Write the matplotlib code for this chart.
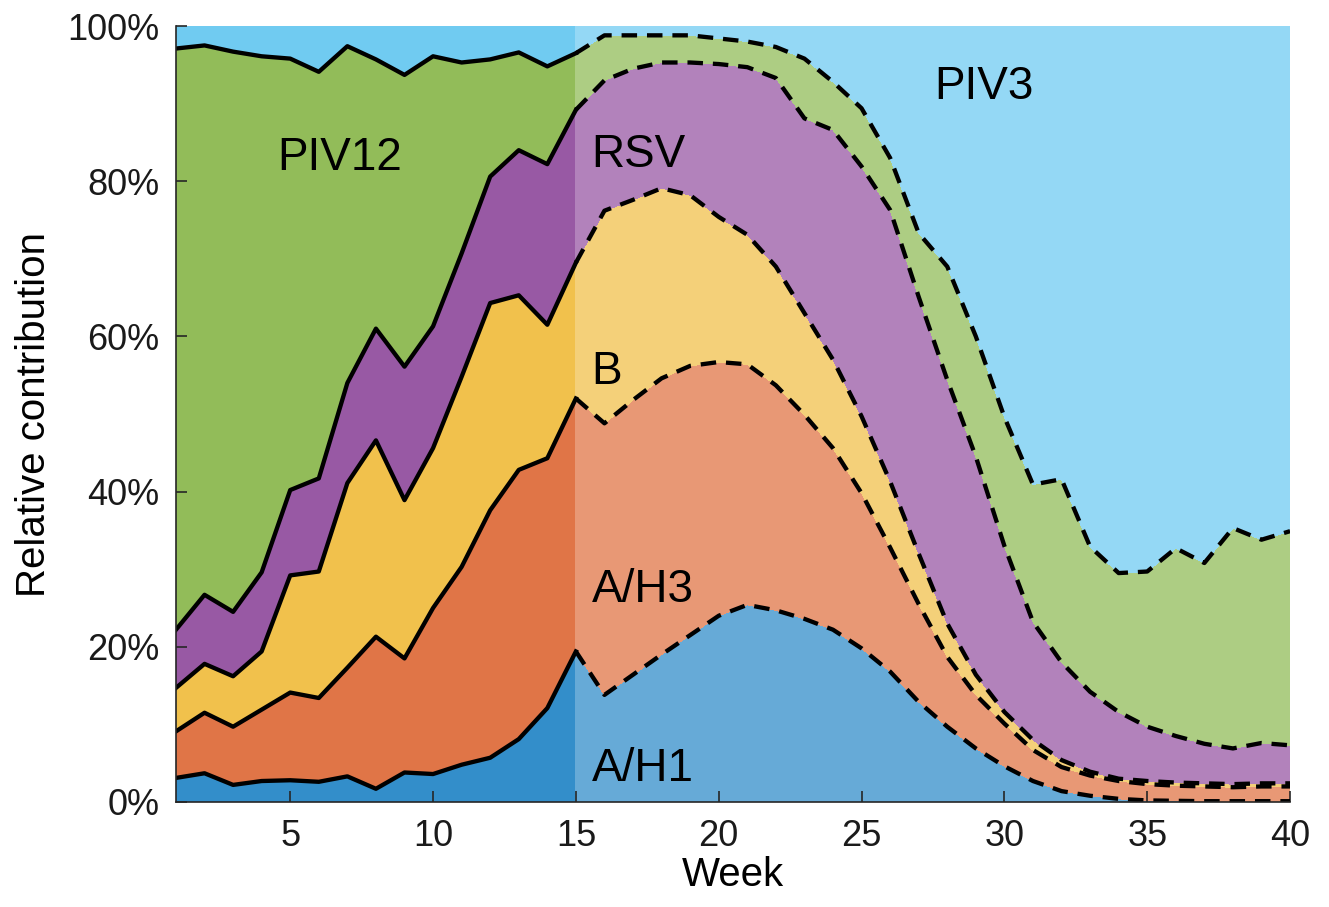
import numpy as np
import matplotlib
matplotlib.use("Agg")
import matplotlib.pyplot as plt

plt.rcParams['font.family'] = ['Liberation Sans', 'DejaVu Sans']

# Weekly share (%) of each virus, stacked from the bottom up
viruses = ['A/H1', 'A/H3', 'B', 'RSV', 'PIV12', 'PIV3']

# observed part, weeks 1-15
weeks_obs = list(range(1, 16))
ah1_obs = [3.1, 3.7, 2.2, 2.7, 2.8, 2.6, 3.3, 1.7, 3.8, 3.6, 4.8, 5.7, 8.1, 12.1, 19.4]
ah3_obs = [6.0, 7.8, 7.5, 9.2, 11.3, 10.8, 14.0, 19.6, 14.7, 21.4, 25.5, 31.9, 34.7, 32.2, 32.6]
b_obs = [5.6, 6.3, 6.5, 7.5, 15.1, 16.3, 23.8, 25.3, 20.4, 20.6, 24.5, 26.7, 22.5, 17.2, 17.5]
rsv_obs = [7.5, 8.9, 8.3, 10.2, 11.0, 12.0, 12.9, 14.4, 17.2, 15.7, 15.9, 16.3, 18.7, 20.7, 19.7]
piv12_obs = [74.9, 70.8, 72.2, 66.5, 55.6, 52.4, 43.4, 34.7, 37.6, 34.8, 24.6, 15.1, 12.6, 12.6, 7.3]
piv3_obs = [2.9, 2.5, 3.3, 3.9, 4.2, 5.9, 2.6, 4.3, 6.3, 3.9, 4.7, 4.3, 3.4, 5.2, 3.5]

# forecast part, weeks 15-40
weeks_fc = list(range(15, 41))
ah1_fc = [19.4, 13.8, 16.4, 19.0, 21.5, 24.0, 25.4, 24.7, 23.6, 22.2, 19.8, 16.8, 12.9,
          9.7, 6.9, 4.6, 2.7, 1.4, 0.8, 0.4, 0.2, 0.15, 0.1, 0.1, 0.1, 0.1]
ah3_fc = [32.6, 35.0, 35.4, 35.6, 34.7, 32.7, 31.0, 29.0, 26.3, 23.4, 20.0, 16.0, 12.6,
          9.0, 6.9, 5.5, 4.0, 3.1, 2.6, 2.3, 2.1, 1.95, 1.9, 1.8, 1.9, 1.9]
b_fc = [17.5, 27.4, 25.8, 24.5, 22.0, 18.7, 16.7, 15.3, 13.1, 11.4, 9.9, 8.5, 6.5,
        4.3, 2.6, 1.5, 1.3, 0.9, 0.5, 0.3, 0.4, 0.4, 0.4, 0.4, 0.4, 0.4]
rsv_fc = [19.7, 16.8, 16.9, 16.2, 17.1, 19.7, 21.6, 24.3, 25.1, 29.6, 32.2, 35.0, 33.1,
          31.4, 28.1, 21.4, 15.2, 12.6, 10.3, 8.6, 7.0, 6.0, 5.1, 4.6, 5.2, 4.9]
piv12_fc = [7.3, 5.8, 4.3, 3.5, 3.5, 3.3, 3.3, 4.0, 7.7, 6.2, 7.5, 6.7, 8.2,
            14.6, 15.5, 16.6, 17.7, 23.6, 18.7, 17.9, 20.0, 24.2, 23.3, 28.4, 26.2, 27.6]
piv3_fc = [3.5, 1.2, 1.2, 1.2, 1.2, 1.6, 2.0, 2.7, 4.2, 7.2, 10.6, 17.0, 26.7,
           31.0, 40.0, 50.4, 59.1, 58.4, 67.1, 70.5, 70.3, 67.3, 69.2, 64.7, 66.2, 65.1]

# MATLAB default colour order
base_colors = [(0, 0.447, 0.741), (0.85, 0.325, 0.098), (0.929, 0.694, 0.125),
               (0.494, 0.184, 0.556), (0.466, 0.674, 0.188), (0.301, 0.745, 0.933)]


def tint(c, a):
    # colour c drawn with opacity a on white
    return tuple(1 - a * (1 - v) for v in c)


obs_colors = [tint(c, 0.8) for c in base_colors]
fc_colors = [tint(c, 0.6) for c in base_colors]

fig = plt.figure(figsize=(13.29, 9.07), dpi=100)
ax = fig.add_axes([0.1324, 0.1158, 0.8383, 0.8555])

obs = [ah1_obs, ah3_obs, b_obs, rsv_obs, piv12_obs, piv3_obs]
fc = [ah1_fc, ah3_fc, b_fc, rsv_fc, piv12_fc, piv3_fc]

ax.stackplot(weeks_obs, *obs, colors=obs_colors, linewidth=0, antialiased=False)
ax.stackplot(weeks_fc, *fc, colors=fc_colors, linewidth=0, antialiased=False)

# boundaries between layers
cum_obs = np.cumsum(np.array(obs), axis=0)
cum_fc = np.cumsum(np.array(fc), axis=0)
for i in range(5):
    ax.plot(weeks_obs, cum_obs[i], color='black', lw=3.1, solid_joinstyle='round')
    ax.plot(weeks_fc, cum_fc[i], color='black', lw=3.1, dashes=(3.6, 2.3))

# layer names
label_pos = {'PIV12': (4.55, 83), 'RSV': (15.55, 83.4), 'B': (15.55, 55.4),
             'A/H3': (15.55, 27.3), 'A/H1': (15.55, 4.2), 'PIV3': (27.55, 92.1)}
for name, (x, y) in label_pos.items():
    ax.text(x, y, name, fontsize=33, ha='left', va='center', color='black')

ax.set_xlim(1, 40)
ax.set_ylim(0, 100)
ax.set_xticks([5, 10, 15, 20, 25, 30, 35, 40])
ax.set_yticks([0, 20, 40, 60, 80, 100])
ax.set_yticklabels(['%d%%' % v for v in [0, 20, 40, 60, 80, 100]])
ax.tick_params(direction='in', length=8, width=1.2, colors='#262626',
               labelsize=26, labelcolor='#1a1a1a', pad=12)
for side in ['top', 'right']:
    ax.spines[side].set_visible(False)
for side in ['left', 'bottom']:
    ax.spines[side].set_color('#262626')
    ax.spines[side].set_linewidth(1.2)

ax.set_xlabel('Week', fontsize=29, labelpad=2)
ax.set_ylabel('Relative contribution', fontsize=29, labelpad=10)

fig.savefig('out.png', dpi=100)
